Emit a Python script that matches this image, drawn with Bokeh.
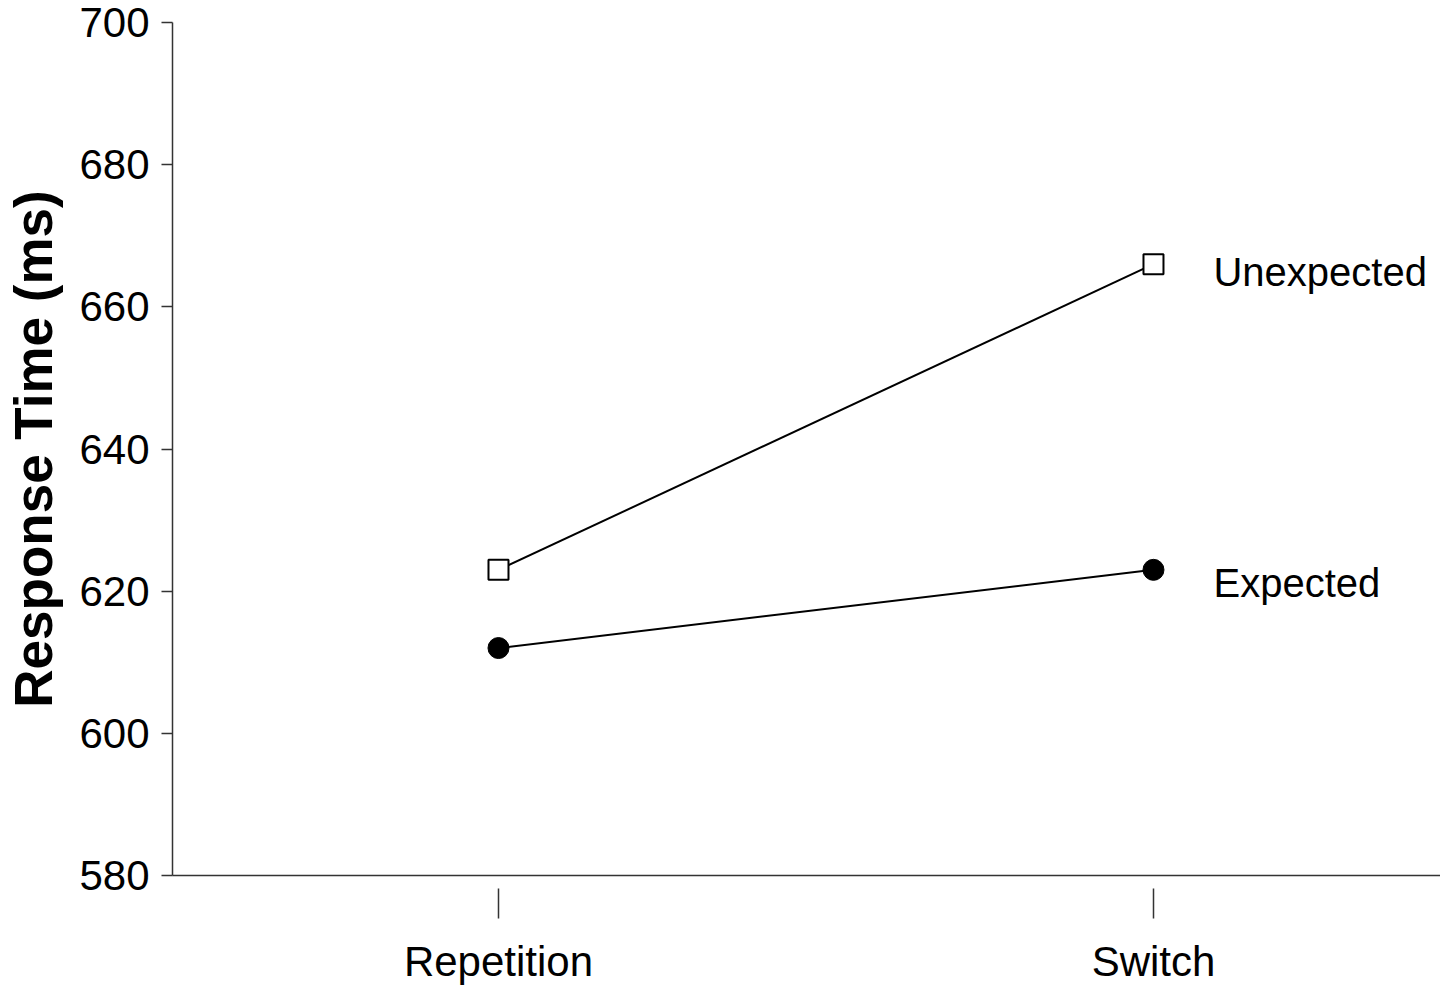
from bokeh.plotting import figure
from bokeh.models import Range1d, FixedTicker, ColumnDataSource
from bokeh.core.properties import value
from bokeh.embed import file_html
from bokeh.resources import INLINE

conditions = ["Repetition", "Switch"]
cond_pos = [1, 2]
unexpected = [623, 666]
expected = [612, 623]
y_ticks = [580, 600, 620, 640, 660, 680, 700]

FONT = "Liberation Sans"

p = figure(width=1440, height=995, output_backend="svg", toolbar_location=None,
           x_range=Range1d(0.5023, 2.4382), y_range=Range1d(580, 700),
           min_border_left=172, min_border_right=0, min_border_top=22, min_border_bottom=120)
p.outline_line_color = None
p.xgrid.visible = False
p.ygrid.visible = False
p.background_fill_color = "white"
p.border_fill_color = "white"

# y axis
ya = p.yaxis[0]
ya.ticker = FixedTicker(ticks=y_ticks)
ya.major_tick_in = 0
ya.major_tick_out = 11
ya.minor_tick_line_color = None
ya.major_tick_line_color = "#333333"
ya.major_tick_line_width = 1.5
ya.axis_line_color = "#333333"
ya.axis_line_width = 1.5
ya.major_label_text_font = FONT
ya.major_label_text_font_size = "42px"
ya.major_label_text_color = "black"
ya.major_label_standoff = 12
ya.axis_label = "Response Time (ms)"
ya.axis_label_text_font = FONT
ya.axis_label_text_font_style = "bold"
ya.axis_label_text_font_size = "53px"
ya.axis_label_text_color = "black"
ya.axis_label_standoff = 13

# x axis
xa = p.xaxis[0]
xa.ticker = FixedTicker(ticks=cond_pos)
xa.major_label_overrides = {cp: c for cp, c in zip(cond_pos, conditions)}
xa.major_tick_in = -13
xa.major_tick_out = 43
xa.minor_tick_line_color = None
xa.major_tick_line_color = "#333333"
xa.major_tick_line_width = 1.5
xa.axis_line_color = "#333333"
xa.axis_line_width = 1.5
xa.major_label_text_font = FONT
xa.major_label_text_font_size = "42px"
xa.major_label_text_color = "black"
xa.major_label_standoff = 19

src_u = ColumnDataSource(dict(x=cond_pos, y=unexpected))
src_e = ColumnDataSource(dict(x=cond_pos, y=expected))

p.line("x", "y", source=src_u, line_color="black", line_width=2)
p.line("x", "y", source=src_e, line_color="black", line_width=2)
p.scatter("x", "y", source=src_u, marker="square", size=20, fill_color="white",
          line_color="black", line_width=2)
p.scatter("x", "y", source=src_e, marker="circle", size=21, fill_color="black",
          line_color="black")

p.text(x=[cond_pos[-1]], y=[unexpected[-1]], text=["Unexpected"], x_offset=60, y_offset=8,
       text_font=value(FONT), text_font_size="40px", text_color="black",
       text_baseline="alphabetic", text_align="left")
p.text(x=[cond_pos[-1]], y=[expected[-1]], text=["Expected"], x_offset=60, y_offset=13,
       text_font=value(FONT), text_font_size="40px", text_color="black",
       text_baseline="alphabetic", text_align="left")

open("out.html", "w").write(file_html(p, INLINE))
